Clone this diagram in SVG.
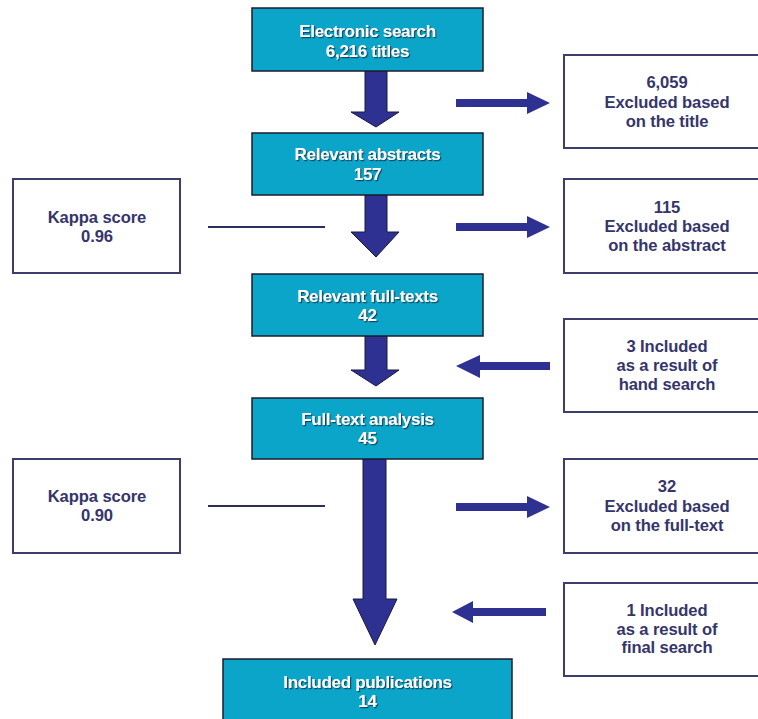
<svg xmlns="http://www.w3.org/2000/svg" width="758" height="719" viewBox="0 0 758 719">
<defs>
<filter id="sh" x="-10%" y="-30%" width="120%" height="160%">
<feDropShadow dx="1.2" dy="1.2" stdDeviation="0.6" flood-color="#1a2a3a" flood-opacity="0.75"/>
</filter>
<style>
.bb{fill:#0ba5c9;stroke:#1c1c30;stroke-width:1.5}
.wb{fill:#ffffff;stroke:#3d3d6b;stroke-width:2}
.bt{font-family:"Liberation Sans",Arial,sans-serif;font-weight:bold;font-size:17px;fill:#ffffff;text-anchor:middle;letter-spacing:-0.3px;filter:url(#sh)}
.wt{font-family:"Liberation Sans",Arial,sans-serif;font-weight:bold;font-size:16.6px;fill:#35356b;text-anchor:middle;letter-spacing:-0.1px}
.ar{fill:#2e3192;stroke:#1a1a40;stroke-width:1}
.ha{fill:#2e3192}
.ln{stroke:#2e2e5e;stroke-width:2;fill:none}
</style>
</defs>
<rect width="758" height="719" fill="#ffffff"/>

<g id="connectors">
<path class="ar" d="M365,71 H387 V112 H399 L376,127 L351,112 H365 Z"/>
<path class="ar" d="M365,195 H387 V232 H399 L376,257 L351,232 H365 Z"/>
<path class="ar" d="M365,336 H387 V370 H399 L376,386 L351,370 H365 Z"/>
<path class="ar" d="M363,459 H386 V599 H397 L375,645 L353,599 H363 Z"/>
<path class="ha" d="M456,99 H527 V92 L550,103 L527,114 V107 H456 Z"/>
<path class="ha" d="M456,223 H527 V216 L550,227 L527,238 V231 H456 Z"/>
<path class="ha" d="M456,503 H527 V496 L550,507 L527,518 V511 H456 Z"/>
<path class="ha" d="M550,362 H480 V355 L456,366 L480,378 V370 H550 Z"/>
<path class="ha" d="M546,608 H473 V601 L452,612 L473,623 V616 H546 Z"/>
<line class="ln" x1="208" y1="227" x2="325" y2="227"/>
<line class="ln" x1="208" y1="506" x2="325" y2="506"/>
</g>

<g id="electronic-search">
<rect class="bb" x="252" y="8" width="231" height="63"/>
<text class="bt" x="367.5" y="37">Electronic search</text>
<text class="bt" x="367.5" y="57">6,216 titles</text>
</g>
<g id="relevant-abstracts">
<rect class="bb" x="252" y="133" width="231" height="62"/>
<text class="bt" x="367.5" y="160">Relevant abstracts</text>
<text class="bt" x="367.5" y="180">157</text>
</g>
<g id="relevant-fulltexts">
<rect class="bb" x="252" y="274" width="231" height="62"/>
<text class="bt" x="367.5" y="302">Relevant full-texts</text>
<text class="bt" x="367.5" y="321">42</text>
</g>
<g id="fulltext-analysis">
<rect class="bb" x="252" y="398" width="231" height="61"/>
<text class="bt" x="367.5" y="425">Full-text analysis</text>
<text class="bt" x="367.5" y="444">45</text>
</g>
<g id="included-publications">
<rect class="bb" x="223" y="659" width="289" height="70"/>
<text class="bt" x="367.5" y="688">Included publications</text>
<text class="bt" x="367.5" y="707">14</text>
</g>

<g id="excluded-title">
<rect class="wb" x="564" y="55" width="206" height="93"/>
<text class="wt" x="667" y="88">6,059</text>
<text class="wt" x="667" y="108">Excluded based</text>
<text class="wt" x="667" y="127">on the title</text>
</g>
<g id="excluded-abstract">
<rect class="wb" x="564" y="179" width="206" height="94"/>
<text class="wt" x="667" y="213">115</text>
<text class="wt" x="667" y="232">Excluded based</text>
<text class="wt" x="667" y="251">on the abstract</text>
</g>
<g id="hand-search">
<rect class="wb" x="564" y="319" width="206" height="93"/>
<text class="wt" x="667" y="352">3 Included</text>
<text class="wt" x="667" y="371">as a result of</text>
<text class="wt" x="667" y="390">hand search</text>
</g>
<g id="excluded-fulltext">
<rect class="wb" x="564" y="459" width="206" height="94"/>
<text class="wt" x="667" y="492">32</text>
<text class="wt" x="667" y="512">Excluded based</text>
<text class="wt" x="667" y="531">on the full-text</text>
</g>
<g id="final-search">
<rect class="wb" x="564" y="583" width="206" height="93"/>
<text class="wt" x="667" y="616">1 Included</text>
<text class="wt" x="667" y="635">as a result of</text>
<text class="wt" x="667" y="653">final search</text>
</g>

<g id="kappa-1">
<rect class="wb" x="13" y="179" width="167" height="94"/>
<text class="wt" x="97" y="223">Kappa score</text>
<text class="wt" x="97" y="242">0.96</text>
</g>
<g id="kappa-2">
<rect class="wb" x="13" y="459" width="167" height="94"/>
<text class="wt" x="97" y="502">Kappa score</text>
<text class="wt" x="97" y="521">0.90</text>
</g>
</svg>
